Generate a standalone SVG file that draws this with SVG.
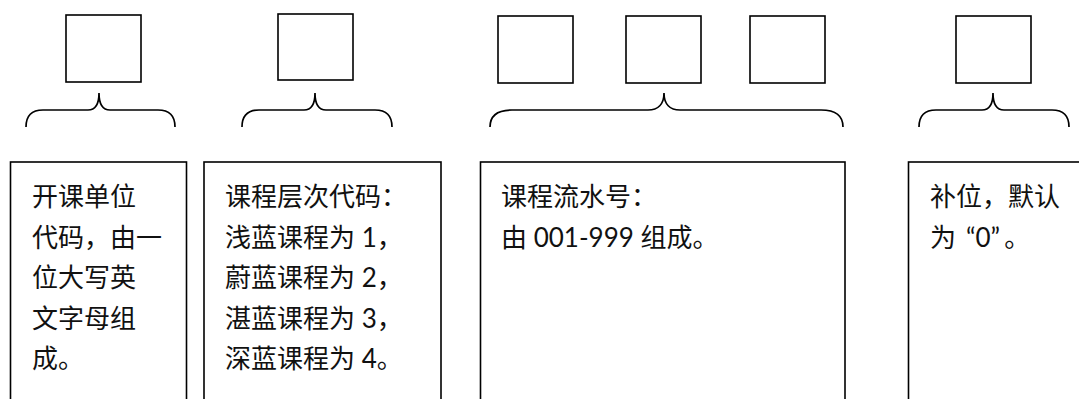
<svg xmlns="http://www.w3.org/2000/svg" width="1079" height="399" viewBox="0 0 1079 399">
<style>
.cell{fill:#fff;stroke:#000;stroke-width:1.6}
.brace{fill:none;stroke:#000;stroke-width:1.7}
.box{fill:#fff;stroke:#000;stroke-width:1.6}
.t{font-family:"Lato","Noto Sans CJK SC",sans-serif;font-size:26px;fill:#111}
</style>
<rect width="1079" height="399" fill="#fff"/>
<g id="cells">
<g id="cell1"><rect class="cell" x="66" y="15" width="75" height="67"/></g>
<g id="cell2"><rect class="cell" x="278" y="14" width="75" height="66"/></g>
<g id="cell3"><rect class="cell" x="498" y="16" width="75" height="67"/></g>
<g id="cell4"><rect class="cell" x="626" y="16" width="75" height="67"/></g>
<g id="cell5"><rect class="cell" x="750" y="16" width="75" height="67"/></g>
<g id="cell6"><rect class="cell" x="956" y="16" width="75" height="67"/></g>
</g>
<g id="connectors">
<path class="brace" d="M26,127 C26,116 31,110 43,110 L88,110 C95,110 99,104 99,93 C99,104 103,110 110,110 L158,110 C170,110 175,116 175,127"/>
<path class="brace" d="M242,127 C242,116 247,110 259,110 L304,110 C311,110 315,104 315,93 C315,104 319,110 326,110 L375,110 C387,110 392,116 392,127"/>
<path class="brace" d="M490,127 C490,116 497,110 512,110 L648,110 C658,110 664,104 664,93 C664,104 670,110 680,110 L821,110 C836,110 843,116 843,127"/>
<path class="brace" d="M919,127 C919,116 924,110 936,110 L982,110 C989,110 993,104 993,93 C993,104 997,110 1004,110 L1052,110 C1064,110 1069,116 1069,127"/>
</g>
<g id="boxA">
<rect class="box" x="10.5" y="162" width="176" height="260"/>
<text class="t" x="32" y="206">开课单位</text>
<text class="t" x="32" y="246.5">代码，由一</text>
<text class="t" x="32" y="287">位大写英</text>
<text class="t" x="32" y="327.5">文字母组</text>
<text class="t" x="32" y="368">成。</text>
</g>
<g id="boxB">
<rect class="box" x="204" y="162" width="237" height="260"/>
<text class="t" x="225" y="206">课程层次代码：</text>
<text class="t" x="225" y="246.5">浅蓝课程为 1，</text>
<text class="t" x="225" y="287">蔚蓝课程为 2，</text>
<text class="t" x="225" y="327.5">湛蓝课程为 3，</text>
<text class="t" x="225" y="368">深蓝课程为 4。</text>
</g>
<g id="boxC">
<rect class="box" x="480.5" y="162" width="364.5" height="260"/>
<text class="t" x="501" y="206">课程流水号：</text>
<text class="t" x="501" y="246.5">由 001-999 组成。</text>
</g>
<g id="boxD">
<rect class="box" x="908.5" y="162" width="200" height="260"/>
<text class="t" x="930" y="206">补位，默认</text>
<text class="t" x="930" y="246.5">为<tspan dx="10">“</tspan>0”<tspan dx="4">。</tspan></text>
</g>
</svg>
